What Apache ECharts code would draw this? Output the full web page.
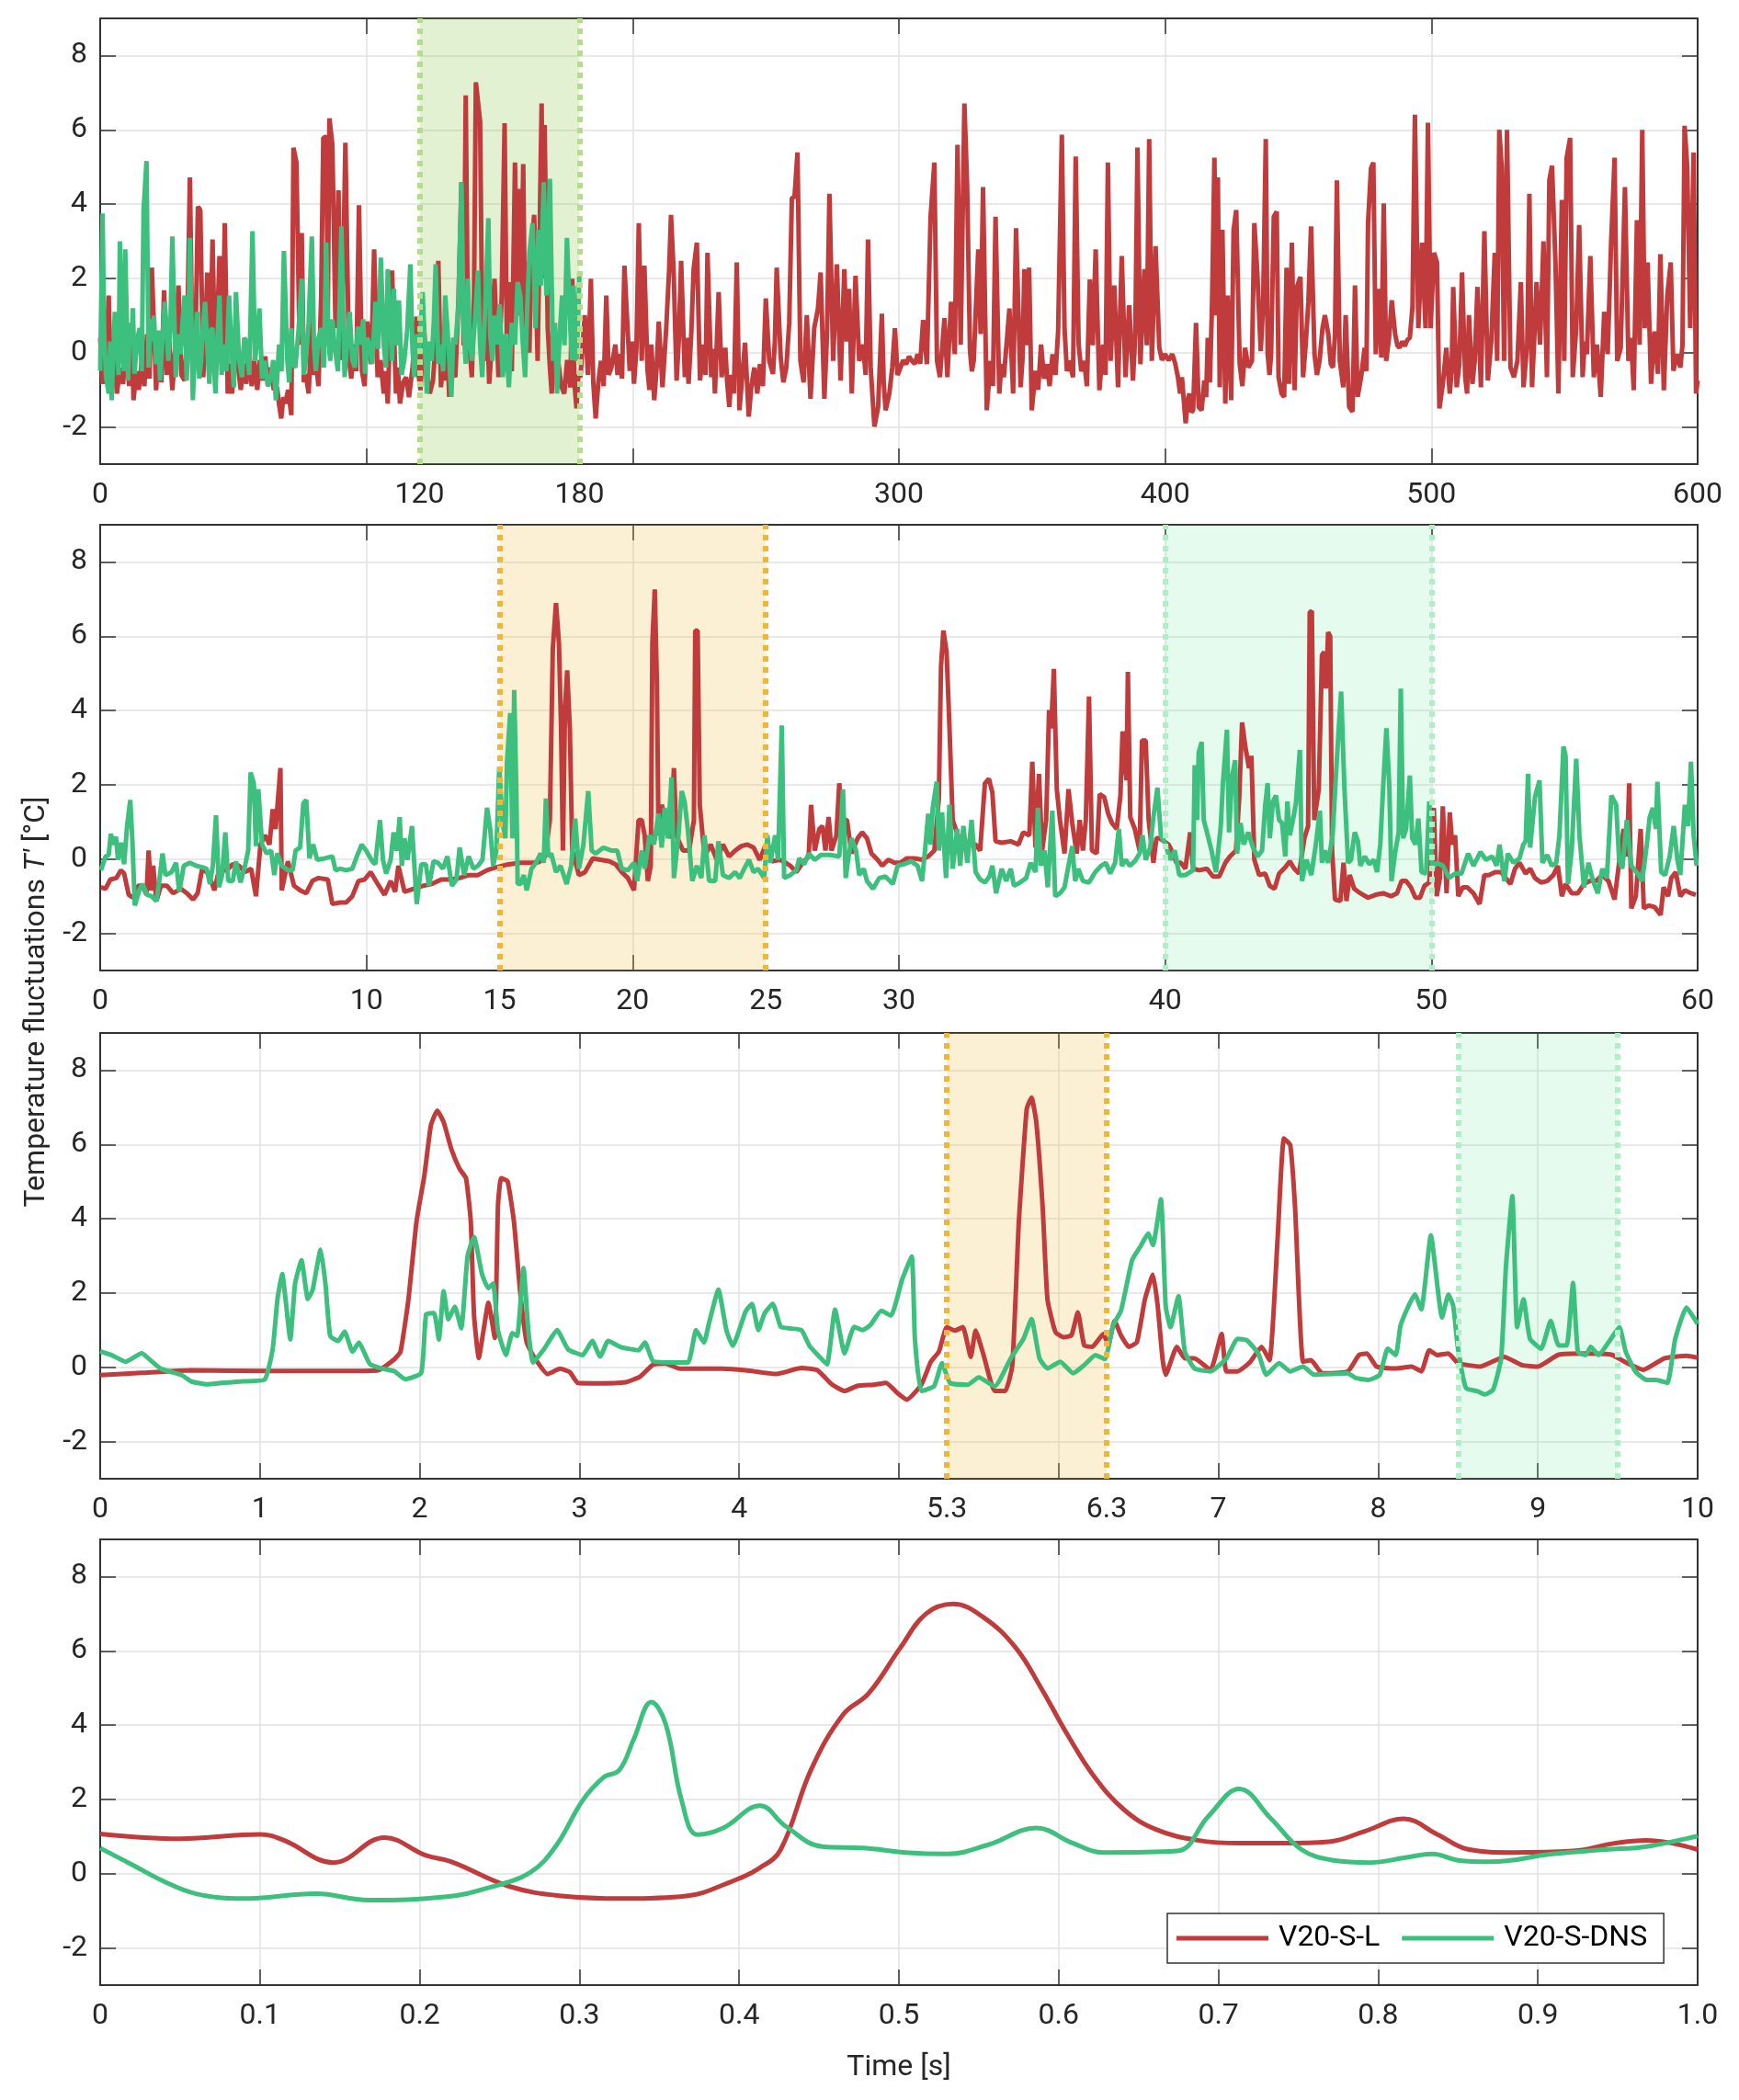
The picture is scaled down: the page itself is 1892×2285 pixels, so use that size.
<!DOCTYPE html>
<html><head><meta charset="utf-8">
<script src="https://cdn.jsdelivr.net/npm/echarts@6/dist/echarts.min.js"></script>
<style>html,body{margin:0;padding:0;background:#fff}#c{width:1892px;height:2285px}</style>
</head><body><div id="c"></div>
<script>
// ---------------- DATA ----------------
const seriesNames = ['V20-S-L', 'V20-S-DNS'];
const yTickValues = [-2, 0, 2, 4, 6, 8];
const p1XLabels = [0, 120, 180, 300, 400, 500, 600];
const p2XLabels = [0, 10, 15, 20, 25, 30, 40, 50, 60];
const p3XLabels = [0, 1, 2, 3, 4, 5.3, 6.3, 7, 8, 9, 10];
const p4XLabels = [0, 0.1, 0.2, 0.3, 0.4, 0.5, 0.6, 0.7, 0.8, 0.9, 1.0];
const p1Bands = [[120, 180]];
const p2Bands = [[15, 25], [40, 50]];
const p3Bands = [[5.3, 6.3], [8.5, 9.5]];
const p4Bands = [];

const p1Red = [[0,0.4],[0.9,-0.84],[2,-0.3],[3.2,1.54],[4,-0.75],[5.2,-0.2],[6.3,-1.1],[7.4,-0.4],[8.6,-0.84],[9.8,0.3],[10.9,-0.9],[12,0.4],[12.5,-1.28],[13.6,-0.5],[14.5,-1.0],[15.6,-0.22],[16.6,-0.9],[17.6,0.5],[18.5,-0.7],[19.4,2.29],[21,-1.01],[22,0.2],[23,-0.8],[24,1.68],[25,-0.6],[26,0.3],[27.1,-1.01],[28.2,0.1],[29.4,1.81],[30.5,-0.6],[31.7,-0.75],[32.7,0.6],[33.7,4.72],[34.8,-0.93],[35.8,0.3],[36.7,3.93],[37.6,3.84],[38.7,-0.66],[39.5,0.4],[40.2,2.16],[41.2,-0.5],[42.2,3.05],[43.3,-0.75],[44.8,2.6],[45.8,-0.3],[46.8,3.49],[47.9,-1.1],[48.7,-0.3],[49.5,-1.1],[50.6,-0.2],[51.8,-0.4],[52.8,-1.0],[53.8,-0.3],[54.9,-0.84],[55.9,0.2],[56.9,-0.9],[57.9,-0.22],[59,-1.0],[60,-0.2],[61,-0.75],[62,-0.1],[63,-0.9],[64.1,-0.4],[65.2,-1.0],[66.4,-0.93],[67.2,-1.4],[68,-1.77],[68.8,-1.2],[69.5,-1.37],[70.6,-1.0],[71.8,-1.68],[72.6,5.52],[73.7,5.12],[74.9,0.22],[75.7,3.22],[76.5,-0.8],[77.2,-0.57],[78.3,-1.1],[79.5,0.93],[80.3,-0.6],[81,-0.22],[82,-0.9],[83,1.5],[83.8,5.78],[84.9,5.82],[85.5,1.0],[86.1,6.31],[87.2,5.6],[88.4,0.66],[89.5,4.37],[90.3,-0.2],[91.1,1.54],[92.1,5.65],[93.4,-0.13],[94.3,-0.7],[95.2,0.22],[96.2,-0.5],[97.2,3.97],[98.3,-0.49],[99.3,-0.9],[100.3,0.84],[101.8,-0.31],[102.9,2.78],[104.2,-0.66],[105.3,-0.2],[106.5,-1.1],[107.2,-0.5],[108,-1.37],[109.6,2.21],[111.1,-1.1],[111.8,-0.4],[112.6,-1.37],[113.8,-0.8],[114.9,-0.66],[116,-1.2],[117.3,-0.4],[118.8,0.97],[119.6,-0.6],[120.3,-1.01],[121.5,0.8],[122.7,-0.57],[123.8,-1.1],[125,-0.75],[126,0.3],[127,2.47],[128,-0.93],[128.8,-0.2],[129.6,-0.75],[130.4,0.2],[131.1,-1.19],[132.2,-0.4],[133.4,-0.66],[134.6,1.5],[135.7,4.59],[136.5,0.2],[137.3,6.93],[138.1,0.66],[139.6,-0.66],[140.4,1.5],[141.1,7.28],[142.7,6.22],[143.5,0.5],[144.2,-0.22],[145.2,1.3],[146.1,-0.84],[147.1,0.2],[148.1,1.99],[149.6,-0.66],[150.8,1.5],[151.9,6.18],[152.7,0.5],[153.5,1.9],[154.6,-0.5],[155.8,5.12],[156.5,1.0],[157.3,4.41],[158.1,1.5],[158.9,5.08],[159.6,0.3],[160.4,2.43],[161.2,0.0],[162,2.78],[163,3.71],[164.3,-0.22],[165.8,6.71],[166.4,2.0],[166.9,6.13],[168.1,0.66],[168.9,-0.4],[169.6,-1.1],[170.8,0.3],[172,-0.22],[173.2,-0.9],[174.3,-1.1],[175.4,-0.2],[176.6,-0.93],[177.3,1.99],[178.1,-0.8],[178.9,-1.5],[179.6,-0.6],[180.4,-0.66],[181.2,0.2],[182,1.01],[183.2,-0.6],[184.3,1.99],[185.2,-0.8],[186.1,-1.77],[187.1,-0.8],[188.1,-0.22],[189.1,-0.9],[190.1,1.54],[191,-0.6],[192,-0.4],[193.5,0.22],[194.3,-0.6],[195.1,-0.04],[196,-0.7],[196.9,2.34],[198.9,-0.49],[199.7,0.3],[200.5,-0.84],[201.4,0.1],[202.3,3.49],[203.4,-0.22],[204.4,2.34],[205.6,-0.49],[206.3,-1.0],[207,0.22],[208.1,-1.28],[209,-0.4],[209.8,0.84],[211.2,-0.93],[212.6,0.66],[213.7,2.25],[214.4,3.71],[215.4,2.16],[216.5,-0.75],[217.3,0.3],[218.2,2.47],[219.6,-0.66],[220.3,0.4],[221,-0.84],[222,0.5],[222.9,2.25],[224.1,2.96],[225.3,-0.75],[226.7,0.22],[227.4,-0.6],[228.1,2.69],[229.5,-0.66],[230.2,0.1],[230.9,-1.1],[232.3,1.63],[233.4,-0.66],[234.8,0.13],[235.5,-0.8],[236.3,-1.46],[237.1,-0.6],[238,-1.1],[239.1,2.43],[240.1,-1.55],[241.2,-0.6],[242.2,0.27],[243.6,-1.72],[244.6,-0.9],[245.7,-0.4],[246.8,-1.1],[247.8,-0.31],[248.9,-0.9],[250,1.46],[251.3,-0.22],[252.7,-0.57],[253.4,0.3],[254.1,2.29],[255.6,-0.13],[256.6,-0.8],[257.7,-0.4],[258.8,0.8],[259.8,4.16],[260.8,4.2],[261.9,5.39],[263,-0.22],[264.2,-0.8],[265.4,1.01],[266.8,-1.24],[268.2,0.66],[269.6,1.19],[270.6,2.16],[272,-1.24],[273,0.5],[273.9,4.28],[275.3,-0.22],[276.7,2.38],[278.1,-0.75],[279.5,2.25],[280.4,0.3],[281.3,1.72],[282.3,-1.1],[283.7,2.07],[285.1,-0.22],[286.5,0.22],[287.5,-0.6],[288.4,3.05],[289.4,-0.4],[290.1,-1.2],[290.8,-1.99],[292.2,-1.46],[293.6,1.05],[294.3,-0.8],[295,-1.55],[296.4,-1.1],[297.5,-0.4],[298.5,0.66],[299.5,-0.6],[300.6,-0.4],[301.6,-0.2],[302.7,-0.31],[303.8,-0.1],[304.9,-0.22],[306,-0.3],[307,-0.04],[308,-0.3],[309.1,0.88],[310.5,-0.31],[311.9,3.66],[313.3,5.12],[314.3,-0.22],[315.4,-0.66],[316.2,0.1],[317.1,0.93],[318.2,-0.66],[319.6,1.37],[321,-0.04],[322,5.6],[323.2,0.22],[324.6,6.71],[325.6,4.55],[326.7,0.04],[327.4,-0.5],[328.1,-0.22],[329.8,2.78],[330.7,0.5],[331.6,4.46],[333,-1.55],[334.4,-0.22],[335.3,-0.9],[336.3,3.66],[337.7,-1.1],[338.5,-0.3],[339.4,-0.66],[340.4,0.2],[341.5,1.19],[342.9,-1.1],[344,3.35],[345.7,-0.93],[346.4,-0.2],[347.1,2.25],[348,0.2],[348.9,2.29],[349.9,-1.55],[351.3,-0.49],[352.3,-1.0],[353.4,0.22],[354.5,-0.7],[355.6,-0.31],[356.6,-0.9],[357.7,-0.04],[358.8,-0.6],[359.8,0.57],[361.2,5.87],[362.2,0.66],[363.1,-0.5],[364,-0.22],[365.4,-0.66],[366.4,5.28],[367.5,0.22],[368.5,-0.5],[369.6,-0.22],[370.6,-0.9],[371.7,1.97],[372.8,0.2],[373.9,2.78],[375.3,-1.01],[376.7,0.22],[377.6,-0.6],[378.5,5.12],[379.5,-0.22],[380.9,1.81],[382.3,-0.93],[383.7,2.6],[385.1,-0.66],[386.5,1.28],[387.9,-0.75],[388.8,0.5],[389.6,5.52],[390.7,-0.31],[392.2,2.25],[393.1,0.2],[394,5.75],[395,-0.22],[396.4,2.87],[397.8,0.13],[398.8,-0.2],[399.9,-0.04],[401.3,-0.2],[402.7,-0.04],[403.8,-0.3],[404.8,-0.66],[405.6,-1.1],[406.3,-0.66],[407.7,-1.9],[408.4,-1.3],[409.1,-1.1],[409.8,-1.6],[410.5,-1.55],[411.6,0.8],[412.6,-1.46],[413.7,-1.55],[414.7,-0.75],[415.4,-1.2],[416,0.4],[416.8,-0.8],[417.6,1.28],[418.5,5.25],[419.2,1.0],[419.8,4.72],[420.5,-0.93],[421.5,3.31],[422.6,-1.37],[423.5,1.54],[424.8,-1.28],[425.7,3.31],[426.7,3.84],[428,-0.31],[429,-0.9],[430,0.13],[431.3,-0.4],[432.6,-0.22],[433.5,3.49],[434.6,2.16],[435.9,0.04],[436.8,1.28],[437.8,5.75],[438.5,-0.04],[439.2,-0.6],[439.8,-0.04],[440.8,3.66],[441.9,3.8],[442.6,-0.66],[443.7,-1.1],[444.7,-1.19],[445.6,2.29],[446.5,-0.84],[447.6,2.96],[448.6,-1.01],[449.5,1.77],[450.8,2.04],[451.8,-0.66],[452.8,0.22],[453.8,1.37],[454.8,3.4],[456.1,-0.04],[457,-0.6],[458,-0.22],[459.1,0.66],[460,1.01],[461.3,0.49],[462.2,-0.3],[463,-0.4],[463.8,0.5],[464.5,4.64],[465.6,-0.22],[466.9,-0.93],[467.8,1.01],[469.1,-1.46],[470.4,-1.59],[471.3,1.81],[472.3,-1.19],[473.6,-0.66],[474.9,0.13],[475.6,-0.5],[476.2,3.49],[477.3,4.96],[478.2,5.12],[479.1,-0.04],[480.2,1.72],[481.2,-0.13],[482.1,4.02],[483,-0.22],[484.1,0.4],[485.1,1.41],[486.4,0.49],[487.2,0.2],[488,0.13],[489,0.3],[490,0.18],[491,0.35],[491.9,0.4],[492.9,1.23],[493.8,6.41],[495.1,0.66],[496.5,2.96],[497.8,0.66],[498.7,6.19],[499.7,0.66],[501,2.69],[502.1,2.43],[503,-1.5],[504.3,-0.84],[505.6,0.13],[506.9,-1.1],[507.6,-0.5],[508.2,1.77],[509.5,-0.93],[510.5,-0.3],[511.5,2.16],[512.7,-0.66],[513.4,-1.1],[514.1,1.01],[515.4,-0.84],[516.3,-0.2],[517.3,1.77],[518.6,-0.93],[519.9,3.27],[521.2,-0.75],[522.5,0.31],[523.8,2.69],[524.7,-0.22],[525.5,6.0],[526.4,5.0],[527.3,-0.22],[528.4,6.0],[529.7,-0.4],[531,-0.66],[532.3,-0.22],[533.6,1.9],[534.6,-0.93],[536,0.22],[536.8,4.28],[537.8,-0.93],[538.6,0.3],[539.5,1.9],[540.8,0.22],[542.1,3.0],[543.4,-0.66],[544.3,4.64],[545.3,5.03],[546.6,2.43],[547.7,-1.1],[549,4.11],[549.9,-0.22],[550.8,5.25],[552.1,5.78],[553.1,-0.66],[554.4,0.66],[555.5,3.44],[556.8,-0.66],[557.6,0.3],[558.4,-0.04],[559.7,2.6],[561,-0.66],[562.2,0.22],[563.6,-1.19],[564.9,1.1],[566.2,-0.04],[567.5,2.96],[568.8,5.25],[569.8,-0.22],[571.1,0.13],[572.7,4.46],[574,-0.22],[575,0.4],[576,-1.01],[577.2,3.57],[578.2,0.22],[579.2,6.0],[580.1,0.66],[581.2,2.43],[582.5,-0.84],[583.8,0.57],[585.1,-0.57],[586,2.65],[587.3,-1.01],[588.6,1.54],[589.9,2.43],[590.9,-0.49],[592.2,-0.04],[593.5,-0.4],[594.3,0.2],[595.1,6.11],[596.1,4.99],[597.2,0.66],[598.5,5.39],[599.4,-1.1],[600,-0.75]];

const p1Green = [[0,-0.49],[0.9,3.75],[1.5,0.5],[2.2,-0.66],[3.2,-1.1],[3.8,0.3],[4.3,-1.28],[5.5,1.1],[6.3,0.22],[6.9,-0.6],[7.4,3.0],[8.3,0.22],[8.9,-0.5],[9.4,2.78],[10.5,-0.75],[11.1,0.8],[11.7,0.22],[12.3,1.2],[12.9,-0.57],[13.8,0.3],[14.8,0.66],[15.6,-0.5],[16.3,3.84],[17.4,5.16],[18.2,-0.4],[18.8,0.9],[19.4,0.31],[20.2,1.0],[21,-0.31],[21.8,0.6],[22.5,-0.75],[23.4,0.4],[24.3,1.37],[25.6,-0.22],[26.4,0.8],[27.1,3.13],[28.4,-0.66],[29.3,0.5],[30.2,-0.04],[31,0.9],[31.7,1.54],[32.5,-0.75],[33.1,0.6],[33.7,3.09],[34.8,-1.28],[35.6,0.2],[36.4,1.1],[37.2,-0.7],[37.9,-0.22],[38.7,0.8],[39.4,1.37],[40.2,0.2],[41,-0.84],[41.6,0.6],[42.2,0.66],[42.8,-0.4],[43.3,-1.1],[44,0.3],[44.8,1.54],[45.6,-0.6],[46.4,0.22],[47.4,-0.5],[48.4,1.54],[49.3,0.1],[50.2,-0.93],[51,1.63],[52.2,-0.2],[53.3,-0.66],[54.1,0.4],[54.9,0.31],[56,-0.6],[57.2,3.27],[58.2,-0.22],[59,0.4],[59.8,1.19],[60.8,-0.7],[61.8,-0.22],[63,-0.9],[64.1,-0.66],[65,-0.2],[66,-1.28],[67.2,0.22],[68.1,-0.5],[69,2.74],[70.3,-0.22],[71,-0.8],[71.8,0.66],[72.5,-0.3],[73.3,-0.4],[74.5,0.6],[75.7,1.99],[76.5,-0.6],[77.2,-0.22],[78.3,0.8],[79.5,3.13],[80.3,0.2],[81,-0.49],[82,0.4],[83.1,0.66],[84,-0.4],[84.9,2.96],[85.6,0.5],[86.4,-0.22],[87.2,0.9],[88,0.22],[89.3,-0.5],[90.6,3.4],[91.8,-0.66],[92.8,0.3],[93.7,1.1],[94.7,-0.2],[95.7,-0.4],[96.8,0.7],[98,0.22],[98.8,0.9],[99.5,-0.57],[100.3,0.4],[101.1,0.22],[102.2,-0.3],[103.4,1.37],[104.4,0.1],[105.4,2.56],[106.5,0.22],[107.3,-0.4],[108,2.25],[109.6,-0.22],[110.3,1.72],[111.2,0.2],[112.2,1.41],[113.2,-0.6],[114.2,-0.22],[115.3,0.6],[116.5,2.38],[117.3,0.1],[118,-0.66],[119,0.5],[119.9,-0.04],[121.1,1.63],[122.7,-1.1],[123.6,0.3],[124.5,-0.22],[125.3,0.8],[126,2.38],[127,-0.3],[128,0.22],[128.8,-0.5],[129.6,1.54],[130.8,0.2],[131.9,-1.19],[132.6,0.4],[133.4,0.22],[134.5,1.2],[135.7,4.59],[136.5,0.66],[137.3,-0.3],[138.1,1.99],[138.8,0.4],[139.6,-0.22],[140.8,0.9],[141.9,2.21],[142.7,0.2],[143.5,-0.66],[144.6,1.2],[145.8,3.62],[146.5,0.5],[147.3,-0.22],[148.1,1.0],[148.9,0.22],[150,1.3],[151.2,-0.66],[152.3,0.5],[153.5,-0.93],[154.6,0.8],[155.8,0.22],[156.8,1.9],[157.8,1.54],[158.7,0.3],[159.6,-0.66],[160.4,1.2],[161.2,2.69],[162.4,3.49],[163.5,0.66],[164.6,3.31],[165.5,1.81],[166.6,4.59],[167.6,1.54],[168.9,4.68],[170.1,-0.22],[170.8,0.8],[171.6,-1.1],[172.6,0.5],[173.5,1.54],[174.4,0.2],[175.3,3.09],[176.6,0.66],[177.2,-0.2],[177.8,1.81],[178.9,-0.22],[179.5,0.8],[180,2.16]];

const p2Red = [[0.03,-0.76],[0.2,-0.8],[0.38,-0.55],[0.61,-0.51],[0.78,-0.3],[0.9,-0.39],[1.07,-0.96],[1.24,-1.04],[1.42,-0.72],[1.59,-0.72],[1.74,-0.96],[1.82,0.23],[1.9,-0.84],[1.99,-0.18],[2.11,-1.13],[2.28,-0.72],[2.51,-0.72],[2.74,-0.92],[3.03,-0.8],[3.26,-0.92],[3.49,-1.09],[3.66,-0.92],[3.83,-0.26],[4.06,-0.39],[4.29,-0.84],[4.46,-0.3],[4.75,-0.3],[4.98,-0.14],[5.21,-0.18],[5.44,-0.35],[5.67,-0.26],[5.85,-1.0],[6.02,0.39],[6.19,0.64],[6.36,0.39],[6.48,1.34],[6.59,0.81],[6.77,2.45],[6.82,-0.84],[7.05,-0.06],[7.28,-0.72],[7.51,-0.84],[7.74,-0.92],[7.97,-0.59],[8.2,-0.51],[8.55,-0.55],[8.72,-1.21],[9.01,-1.17],[9.24,-1.17],[9.47,-1.0],[9.7,-0.59],[9.93,-0.55],[10.16,-0.35],[10.39,-0.63],[10.68,-0.96],[10.91,-0.59],[11.08,-0.88],[11.2,-0.18],[11.43,-0.88],[11.77,-0.8],[12.12,-0.72],[12.46,-0.67],[12.81,-0.55],[13.15,-0.55],[13.5,-0.51],[13.84,-0.43],[14.19,-0.43],[14.53,-0.3],[14.88,-0.22],[15.34,-0.14],[15.8,-0.1],[16.26,-0.1],[16.48,-0.08],[16.71,0.07],[16.89,1.05],[17.0,5.66],[17.12,6.89],[17.23,5.82],[17.31,3.52],[17.38,0.23],[17.46,4.1],[17.54,5.08],[17.64,3.52],[17.73,0.23],[17.98,-0.43],[18.21,-0.35],[18.5,0.02],[18.79,-0.02],[19.13,-0.06],[19.36,-0.14],[19.59,-0.35],[19.82,-0.51],[20.05,-0.84],[20.22,1.05],[20.34,1.05],[20.45,0.64],[20.57,-0.59],[20.68,-0.18],[20.74,5.82],[20.83,7.26],[20.91,4.75],[20.97,0.64],[21.09,1.46],[21.26,1.05],[21.43,0.56],[21.55,2.45],[21.64,0.64],[21.89,0.23],[22.12,0.23],[22.3,1.05],[22.35,6.15],[22.44,6.15],[22.52,1.46],[22.7,0.07],[22.93,0.39],[23.16,-0.02],[23.39,0.39],[23.62,0.07],[23.85,0.23],[24.08,0.35],[24.31,0.39],[24.54,0.31],[24.77,-0.02],[25.0,0.39],[25.23,-0.06],[25.52,-0.02],[25.75,-0.1],[25.92,-0.18],[26.15,-0.35],[26.38,-0.1],[26.61,0.07],[26.7,1.46],[26.84,0.23],[27.01,0.81],[27.13,0.89],[27.24,0.23],[27.36,1.13],[27.47,0.23],[27.65,0.64],[27.76,2.04],[27.88,1.05],[28.05,1.05],[28.22,0.15],[28.45,0.56],[28.62,0.72],[28.8,0.56],[28.97,0.15],[29.2,-0.02],[29.37,-0.18],[29.6,-0.02],[29.83,-0.1],[30.06,-0.1],[30.29,0.02],[30.58,0.02],[30.87,-0.02],[31.1,0.07],[31.33,0.23],[31.5,1.63],[31.58,5.16],[31.67,6.15],[31.79,5.58],[31.9,3.52],[32.02,1.05],[32.25,0.56],[32.48,0.48],[32.71,0.39],[32.88,0.39],[33.05,0.23],[33.23,2.04],[33.38,2.16],[33.51,1.79],[33.63,0.48],[33.86,0.44],[34.2,0.48],[34.49,0.39],[34.67,0.72],[34.9,0.64],[35.01,2.62],[35.13,0.31],[35.26,2.29],[35.38,0.23],[35.53,1.05],[35.64,4.01],[35.72,3.52],[35.82,5.12],[35.93,1.88],[36.05,1.05],[36.22,0.15],[36.37,1.88],[36.51,0.97],[36.68,0.15],[36.79,1.05],[36.91,0.23],[37.02,1.05],[37.14,4.38],[37.25,0.23],[37.43,0.15],[37.54,1.75],[37.71,1.67],[37.86,1.22],[38.0,0.97],[38.18,0.81],[38.32,1.71],[38.4,3.44],[38.46,2.7],[38.55,2.12],[38.6,5.04],[38.69,1.13],[38.86,0.81],[39.04,0.23],[39.13,3.19],[39.27,3.19],[39.38,1.05],[39.56,-0.1],[39.67,0.56],[39.79,0.56],[39.96,0.48],[40.13,0.39],[40.3,0.15],[40.42,-0.1],[40.59,-0.1],[40.76,-0.26],[40.94,0.72],[41.05,-0.26],[41.28,-0.3],[41.57,-0.26],[41.8,-0.47],[42.03,-0.47],[42.26,-0.1],[42.43,0.07],[42.66,0.23],[42.78,1.63],[42.89,3.68],[43.01,3.03],[43.15,2.45],[43.24,2.78],[43.35,-0.02],[43.53,-0.43],[43.76,-0.39],[43.93,-0.72],[44.11,-0.8],[44.28,-0.39],[44.51,-0.22],[44.68,-0.06],[44.85,-0.26],[45.03,-0.39],[45.23,0.56],[45.37,0.89],[45.43,6.64],[45.51,6.68],[45.6,1.05],[45.77,1.88],[45.89,5.49],[45.97,5.58],[46.04,4.59],[46.12,6.11],[46.2,5.99],[46.27,0.23],[46.38,-1.09],[46.58,-1.13],[46.7,-0.1],[46.81,-1.13],[46.93,-0.43],[47.1,-0.8],[47.33,-0.92],[47.62,-1.04],[47.91,-0.96],[48.19,-0.92],[48.48,-1.0],[48.71,-0.92],[48.88,-0.59],[49.05,-0.59],[49.23,-0.76],[49.4,-1.04],[49.57,-1.04],[49.74,-0.72],[49.92,-0.63],[50.09,1.38],[50.2,-1.0],[50.32,-0.51],[50.43,1.42],[50.57,-0.92],[50.69,1.26],[50.78,0.39],[50.89,0.64],[51.01,-1.0],[51.18,-0.76],[51.35,-0.76],[51.58,-0.92],[51.81,-1.21],[51.99,-0.43],[52.16,-0.43],[52.39,-0.35],[52.62,-0.35],[52.79,-0.51],[52.97,-0.67],[53.14,-0.26],[53.31,-0.1],[53.54,-0.39],[53.71,-0.26],[53.89,-0.51],[54.12,-0.63],[54.35,-0.59],[54.58,-0.43],[54.75,-0.18],[54.9,-1.0],[55.04,-0.67],[55.27,-0.92],[55.5,-0.92],[55.73,-0.67],[55.96,-0.59],[56.19,-0.59],[56.42,-0.43],[56.65,-0.59],[56.88,-1.09],[57.05,-0.1],[57.22,0.81],[57.34,0.07],[57.43,2.04],[57.51,-1.33],[57.68,-1.0],[57.86,0.81],[57.98,-1.33],[58.15,-1.25],[58.38,-1.29],[58.61,-1.5],[58.72,-0.76],[58.89,-1.0],[59.01,-0.51],[59.18,-0.35],[59.35,-1.0],[59.52,-0.84],[59.75,-0.92],[59.93,-0.96]];

const p2Green = [[0.03,-0.3],[0.2,0.07],[0.32,0.11],[0.4,0.68],[0.49,0.39],[0.59,0.6],[0.67,-0.02],[0.78,0.44],[0.9,-0.14],[1.01,0.89],[1.13,1.59],[1.21,0.48],[1.3,-1.25],[1.47,-0.84],[1.59,-0.67],[1.76,-0.96],[1.93,-1.0],[2.11,-1.13],[2.22,-0.59],[2.34,0.15],[2.45,-0.43],[2.68,-0.35],[2.85,-0.1],[2.97,-0.88],[3.14,-0.18],[3.37,-0.1],[3.6,-0.18],[3.83,-0.22],[4.0,-0.26],[4.12,-0.67],[4.23,-0.18],[4.35,1.18],[4.46,-0.76],[4.58,-0.43],[4.7,0.72],[4.81,-0.59],[4.98,-0.59],[5.1,-0.06],[5.27,-0.63],[5.44,-0.18],[5.56,0.23],[5.65,2.33],[5.77,2.04],[5.85,0.35],[5.94,1.88],[6.08,0.39],[6.25,0.15],[6.42,0.23],[6.54,-0.43],[6.65,0.15],[6.82,-0.18],[7.05,-0.3],[7.23,-0.3],[7.34,0.23],[7.51,0.31],[7.63,1.5],[7.74,1.59],[7.86,0.02],[8.0,0.39],[8.15,-0.02],[8.44,0.02],[8.72,0.07],[8.84,-0.3],[9.01,-0.26],[9.24,-0.3],[9.47,-0.26],[9.64,0.07],[9.82,0.39],[9.99,0.23],[10.22,-0.06],[10.33,-0.14],[10.51,1.05],[10.62,-0.02],[10.74,-0.39],[10.91,-0.02],[11.02,0.72],[11.14,0.23],[11.25,1.13],[11.33,-0.18],[11.43,0.56],[11.54,-0.02],[11.71,0.89],[11.89,-1.21],[12.06,-0.14],[12.23,-0.14],[12.35,-0.72],[12.52,-0.06],[12.69,-0.1],[12.87,-0.26],[13.04,0.07],[13.21,-0.72],[13.38,-0.55],[13.5,0.31],[13.67,-0.43],[13.84,0.07],[14.02,-0.26],[14.19,-0.18],[14.36,-0.02],[14.53,1.38],[14.65,0.81],[14.76,-0.18],[14.88,0.23],[14.99,2.49],[15.11,0.97],[15.22,0.56],[15.28,2.62],[15.4,3.93],[15.48,0.56],[15.55,4.55],[15.63,1.88],[15.68,-0.67],[15.79,-0.67],[15.91,-0.43],[16.02,-0.84],[16.2,-0.26],[16.37,-0.1],[16.54,0.15],[16.66,-0.1],[16.74,1.63],[16.83,0.07],[16.94,0.15],[17.12,-0.35],[17.29,-0.18],[17.52,-0.67],[17.69,-0.18],[17.84,1.09],[17.98,-0.26],[18.15,0.39],[18.33,1.83],[18.46,0.23],[18.61,0.15],[18.9,0.31],[19.19,0.23],[19.42,0.23],[19.59,-0.26],[19.82,-0.3],[20.05,-0.1],[20.17,-0.59],[20.34,0.23],[20.45,-0.26],[20.63,0.64],[20.8,0.39],[20.97,1.22],[21.09,0.31],[21.2,1.38],[21.32,0.56],[21.46,2.2],[21.55,-0.51],[21.72,0.64],[21.84,1.83],[21.95,1.55],[22.07,0.81],[22.24,-0.59],[22.41,-0.18],[22.58,-0.51],[22.7,0.64],[22.87,-0.59],[23.1,-0.59],[23.22,0.48],[23.39,-0.43],[23.62,-0.51],[23.85,-0.35],[24.02,-0.51],[24.19,-0.26],[24.37,-0.02],[24.54,-0.35],[24.71,-0.26],[24.94,-0.51],[25.06,0.64],[25.17,-0.1],[25.35,0.64],[25.46,-0.02],[25.6,3.6],[25.69,-0.51],[25.92,-0.43],[26.15,-0.3],[26.26,0.02],[26.44,-0.14],[26.61,0.15],[26.84,-0.02],[27.07,0.11],[27.42,0.11],[27.76,0.07],[27.9,1.88],[28.0,-0.51],[28.11,0.07],[28.22,0.56],[28.39,0.23],[28.51,-0.43],[28.68,-0.26],[28.8,-0.59],[29.03,-0.8],[29.26,-0.51],[29.49,-0.47],[29.77,-0.67],[29.95,-0.18],[30.18,-0.14],[30.46,-0.06],[30.7,-0.18],[30.87,-0.59],[30.98,0.23],[31.1,1.22],[31.19,0.39],[31.27,1.38],[31.42,2.08],[31.5,0.23],[31.62,1.26],[31.77,-0.51],[31.9,1.46],[32.02,-0.26],[32.19,0.81],[32.3,-0.18],[32.42,0.89],[32.57,-0.1],[32.73,1.05],[32.88,-0.35],[33.05,-0.55],[33.23,-0.63],[33.4,-0.47],[33.51,-0.18],[33.65,-0.92],[33.86,-0.26],[34.03,-0.59],[34.2,-0.26],[34.32,-0.72],[34.55,-0.63],[34.78,-0.51],[34.95,-0.1],[35.13,-0.35],[35.22,1.38],[35.33,-0.18],[35.47,0.23],[35.59,-0.76],[35.76,1.3],[35.87,-1.0],[36.05,-0.92],[36.22,-0.76],[36.39,-0.1],[36.51,0.35],[36.62,-0.59],[36.74,-0.26],[36.91,-0.59],[37.14,-0.63],[37.37,-0.35],[37.6,-0.18],[37.77,-0.1],[37.94,-0.39],[38.12,-0.1],[38.26,0.81],[38.37,-0.18],[38.52,-0.02],[38.67,-0.18],[38.86,-0.06],[39.04,0.15],[39.15,0.64],[39.27,-0.02],[39.44,0.31],[39.56,1.13],[39.71,1.92],[39.84,0.64],[40.02,0.39],[40.19,-0.02],[40.36,0.23],[40.53,-0.43],[40.76,-0.43],[41.05,-0.3],[41.11,2.53],[41.2,1.05],[41.26,2.86],[41.37,3.15],[41.45,1.05],[41.57,0.72],[41.74,0.23],[41.91,-0.35],[42.09,0.89],[42.17,2.04],[42.32,3.48],[42.4,0.72],[42.51,2.2],[42.63,2.66],[42.7,0.15],[42.83,0.97],[42.95,0.39],[43.12,0.72],[43.3,0.31],[43.47,0.07],[43.64,0.23],[43.76,1.46],[43.85,2.04],[43.93,0.56],[44.05,1.55],[44.16,1.71],[44.28,1.05],[44.39,0.97],[44.51,0.07],[44.59,1.55],[44.68,0.64],[44.82,1.13],[44.91,1.5],[45.06,2.94],[45.14,-0.59],[45.31,-0.02],[45.49,-0.43],[45.66,0.39],[45.81,1.3],[45.89,-0.1],[46.0,0.23],[46.12,-0.1],[46.29,0.64],[46.41,2.2],[46.52,3.52],[46.61,4.51],[46.73,1.96],[46.87,-0.1],[46.98,-0.02],[47.12,0.72],[47.24,0.48],[47.33,-0.18],[47.5,0.07],[47.67,-0.14],[47.84,-0.02],[47.96,-0.35],[48.08,0.39],[48.19,1.96],[48.31,3.52],[48.42,1.96],[48.5,-0.59],[48.65,0.23],[48.77,0.72],[48.85,4.59],[48.94,0.56],[49.05,0.81],[49.19,2.25],[49.28,0.56],[49.4,0.39],[49.51,1.09],[49.63,-0.35],[49.8,-0.39],[49.92,1.55],[50.03,-0.26],[50.2,-0.1],[50.43,-0.18],[50.67,-0.51],[50.89,-0.39],[51.13,-0.39],[51.38,0.15],[51.58,-0.18],[51.84,0.19],[52.05,-0.02],[52.28,0.07],[52.45,-0.18],[52.56,0.39],[52.74,-0.59],[52.87,0.15],[53.08,-0.1],[53.31,0.02],[53.45,0.39],[53.54,0.48],[53.63,2.29],[53.71,0.31],[53.89,1.67],[54.06,2.12],[54.17,-0.1],[54.35,0.11],[54.52,-0.18],[54.69,-0.1],[54.81,0.64],[54.96,3.03],[55.04,2.78],[55.13,-0.67],[55.27,0.23],[55.44,2.7],[55.56,0.64],[55.73,-0.76],[55.9,-0.1],[56.07,-0.59],[56.25,-0.92],[56.42,-0.26],[56.59,-0.51],[56.76,1.71],[56.94,1.46],[57.05,-0.02],[57.17,-0.26],[57.34,1.05],[57.51,-0.18],[57.74,-0.39],[57.92,-0.59],[58.09,0.39],[58.2,1.13],[58.32,1.38],[58.43,0.81],[58.49,2.08],[58.63,-0.35],[58.78,-0.43],[58.95,0.07],[59.1,0.89],[59.24,-0.02],[59.35,-0.43],[59.52,1.46],[59.64,0.89],[59.75,2.62],[59.85,0.64],[59.96,-0.18]];

const p3Red = [[0,-0.21],[0.26,-0.15],[0.57,-0.08],[1.05,-0.1],[1.52,-0.1],[1.74,-0.08],[1.84,0.21],[1.88,0.42],[1.93,1.84],[1.98,3.92],[2.03,5.18],[2.07,6.51],[2.11,6.91],[2.15,6.6],[2.2,5.85],[2.25,5.34],[2.29,5.09],[2.32,3.92],[2.34,1.42],[2.37,0.25],[2.4,1.0],[2.43,1.74],[2.47,0.79],[2.49,4.34],[2.51,5.09],[2.55,5.01],[2.59,3.92],[2.63,2.0],[2.67,0.67],[2.72,0.25],[2.8,-0.18],[2.88,-0.04],[2.94,-0.13],[2.99,-0.42],[3.1,-0.43],[3.29,-0.4],[3.38,-0.25],[3.46,0.07],[3.54,0.1],[3.63,-0.04],[3.89,-0.04],[4.04,-0.08],[4.23,-0.18],[4.39,-0.02],[4.49,-0.08],[4.58,-0.46],[4.66,-0.64],[4.74,-0.5],[4.84,-0.47],[4.92,-0.42],[4.99,-0.69],[5.05,-0.87],[5.14,-0.47],[5.2,0.15],[5.25,0.42],[5.3,1.08],[5.35,0.99],[5.4,1.08],[5.45,0.28],[5.48,0.99],[5.53,0.33],[5.6,-0.64],[5.665,-0.64],[5.71,0.06],[5.75,3.86],[5.8,6.95],[5.83,7.26],[5.86,6.6],[5.9,4.3],[5.93,1.83],[5.98,0.95],[6.03,0.81],[6.08,0.86],[6.12,1.48],[6.16,0.59],[6.21,0.55],[6.28,0.9],[6.31,0.59],[6.35,1.25],[6.39,0.86],[6.44,0.55],[6.49,0.68],[6.54,1.83],[6.59,2.49],[6.62,1.65],[6.65,0.24],[6.67,-0.2],[6.74,0.55],[6.79,0.24],[6.85,0.24],[6.95,-0.07],[7.02,0.9],[7.05,-0.11],[7.12,-0.11],[7.2,0.15],[7.27,0.55],[7.32,0.19],[7.37,3.42],[7.41,6.16],[7.45,5.98],[7.48,4.3],[7.53,0.15],[7.58,0.19],[7.65,-0.16],[7.81,-0.11],[7.88,0.33],[7.93,0.37],[7.99,0.02],[8.11,-0.03],[8.21,0.02],[8.27,-0.11],[8.32,0.46],[8.37,0.33],[8.44,0.37],[8.5,0.11],[8.64,0.02],[8.79,0.28],[8.9,0.06],[9.0,0.02],[9.13,0.34],[9.3,0.37],[9.46,0.34],[9.56,0.11],[9.66,-0.07],[9.79,0.24],[9.93,0.31],[10.0,0.26]];

const p3Green = [[0,0.43],[0.07,0.33],[0.16,0.15],[0.26,0.38],[0.32,0.17],[0.38,-0.04],[0.51,-0.21],[0.57,-0.38],[0.67,-0.46],[0.76,-0.42],[0.89,-0.38],[1.03,-0.33],[1.08,0.5],[1.11,1.84],[1.14,2.51],[1.16,1.84],[1.19,0.75],[1.22,2.25],[1.26,2.88],[1.3,1.84],[1.33,2.09],[1.38,3.17],[1.41,2.25],[1.44,0.84],[1.49,0.71],[1.53,0.96],[1.58,0.42],[1.62,0.67],[1.66,0.33],[1.69,0.08],[1.77,-0.04],[1.84,-0.1],[1.91,-0.32],[2.01,-0.15],[2.04,1.42],[2.09,1.46],[2.12,0.75],[2.15,2.05],[2.18,1.29],[2.22,1.63],[2.26,1.05],[2.3,3.0],[2.34,3.51],[2.39,2.51],[2.43,2.13],[2.46,2.25],[2.49,1.0],[2.54,0.33],[2.58,0.92],[2.61,0.84],[2.65,2.67],[2.68,1.0],[2.71,0.13],[2.78,0.5],[2.86,1.0],[2.93,0.48],[3.02,0.33],[3.08,0.71],[3.13,0.29],[3.18,0.71],[3.26,0.54],[3.37,0.46],[3.41,0.67],[3.46,0.17],[3.57,0.13],[3.68,0.13],[3.73,1.0],[3.78,0.67],[3.81,1.17],[3.87,2.09],[3.92,1.0],[3.96,0.58],[4.04,1.5],[4.08,1.71],[4.12,1.0],[4.16,1.46],[4.21,1.71],[4.26,1.09],[4.31,1.05],[4.39,1.0],[4.44,0.58],[4.51,0.25],[4.55,0.08],[4.6,1.55],[4.66,0.38],[4.72,1.09],[4.77,1.0],[4.82,1.13],[4.89,1.52],[4.95,1.39],[5.02,2.36],[5.08,2.98],[5.1,0.77],[5.14,-0.64],[5.22,-0.51],[5.27,0.11],[5.32,-0.42],[5.43,-0.47],[5.5,-0.27],[5.6,-0.51],[5.7,0.24],[5.78,0.77],[5.83,1.3],[5.88,0.24],[5.93,-0.03],[6.01,0.15],[6.09,-0.16],[6.16,0.06],[6.23,0.33],[6.29,0.22],[6.34,1.12],[6.39,1.52],[6.46,2.89],[6.51,3.24],[6.56,3.6],[6.59,3.29],[6.64,4.52],[6.67,1.65],[6.7,1.08],[6.75,1.92],[6.79,0.42],[6.85,-0.03],[6.95,-0.11],[7.05,0.24],[7.12,0.77],[7.18,0.72],[7.25,0.37],[7.3,-0.2],[7.38,0.11],[7.45,-0.11],[7.53,0.02],[7.6,-0.2],[7.81,-0.16],[7.86,-0.29],[7.94,-0.34],[8.01,-0.2],[8.06,0.5],[8.11,0.33],[8.14,1.12],[8.19,1.65],[8.23,1.96],[8.27,1.56],[8.33,3.55],[8.4,1.34],[8.44,1.96],[8.47,1.65],[8.5,0.5],[8.55,-0.56],[8.62,-0.64],[8.67,-0.73],[8.72,-0.6],[8.77,0.24],[8.8,2.71],[8.84,4.61],[8.87,1.08],[8.91,1.83],[8.95,0.77],[9.02,0.5],[9.08,1.25],[9.13,0.59],[9.18,0.59],[9.22,2.27],[9.25,0.42],[9.3,0.33],[9.33,0.55],[9.38,0.33],[9.45,0.72],[9.51,1.08],[9.55,0.42],[9.61,-0.11],[9.68,-0.34],[9.74,-0.34],[9.81,-0.42],[9.86,0.77],[9.93,1.61],[10.0,1.17]];

const p4Red = [[0,1.07],[0.05,0.94],[0.1,1.06],[0.115,0.9],[0.146,0.3],[0.178,0.97],[0.204,0.49],[0.22,0.32],[0.256,-0.34],[0.289,-0.6],[0.328,-0.67],[0.367,-0.6],[0.393,-0.25],[0.413,0.16],[0.426,0.65],[0.445,2.8],[0.465,4.28],[0.481,4.85],[0.501,6.09],[0.517,7.0],[0.534,7.26],[0.553,6.9],[0.573,6.09],[0.589,5.0],[0.605,3.78],[0.622,2.63],[0.641,1.72],[0.661,1.19],[0.687,0.9],[0.713,0.82],[0.739,0.82],[0.769,0.86],[0.792,1.15],[0.816,1.48],[0.837,1.06],[0.857,0.65],[0.883,0.57],[0.922,0.61],[0.948,0.82],[0.968,0.9],[0.984,0.82],[1.0,0.65]];

const p4Green = [[0,0.69],[0.02,0.24],[0.04,-0.21],[0.06,-0.54],[0.089,-0.67],[0.135,-0.54],[0.168,-0.71],[0.217,-0.62],[0.243,-0.38],[0.269,0.03],[0.285,0.73],[0.302,1.97],[0.315,2.59],[0.325,2.79],[0.334,3.62],[0.345,4.62],[0.354,4.03],[0.364,1.97],[0.374,1.05],[0.39,1.23],[0.413,1.83],[0.429,1.28],[0.452,0.73],[0.478,0.69],[0.504,0.57],[0.53,0.53],[0.556,0.78],[0.586,1.23],[0.609,0.82],[0.628,0.57],[0.674,0.61],[0.694,1.56],[0.713,2.28],[0.733,1.48],[0.752,0.65],[0.772,0.36],[0.795,0.3],[0.818,0.44],[0.834,0.53],[0.85,0.36],[0.87,0.32],[0.909,0.53],[0.942,0.65],[0.968,0.73],[1.0,1.02]];

// ---------------- STYLE / LAYOUT ----------------
const RED = '#c03b3b', GREEN = '#3dbf7e';
const AXIS = '#333333', TEXT = '#262626', GRIDLINE = '#e2e2e2';
const FONT = 'Roboto, "Noto Sans", "DejaVu Sans", sans-serif';
const FS = 32;
const LW = 5;
const bandStyle = {
  lime:  { fill: 'rgba(140,200,80,0.26)',  edge: '#b5dd8a' },
  amber: { fill: 'rgba(240,185,60,0.22)',  edge: '#f0b63a' },
  mint:  { fill: 'rgba(100,230,150,0.17)', edge: '#b0eec6' }
};
const panels = [
  { min: 0, max: 600, step: 100, labels: p1XLabels, red: p1Red, green: p1Green, bands: p1Bands, kinds: ['lime'], smooth: false, fmt: v => String(v) },
  { min: 0, max: 60, step: 10, labels: p2XLabels, red: p2Red, green: p2Green, bands: p2Bands, kinds: ['amber', 'mint'], smooth: false, fmt: v => String(v) },
  { min: 0, max: 10, step: 1, labels: p3XLabels, red: p3Red, green: p3Green, bands: p3Bands, kinds: ['amber', 'mint'], smooth: 0.15, fmt: v => String(v) },
  { min: 0, max: 1, step: 0.1, labels: p4XLabels, red: p4Red, green: p4Green, bands: p4Bands, kinds: [], smooth: 0.4, fmt: v => (v === 1 ? '1.0' : String(v)) }
];
const gridTops = [20, 571, 1124, 1675];
const gridH = 485;

const grid = [], xAxis = [], yAxis = [], series = [];
panels.forEach((p, i) => {
  grid.push({ left: 109, right: 45, top: gridTops[i], height: gridH, containLabel: false });
  const lineBase = { show: true, onZero: false, lineStyle: { color: AXIS, width: 2 } };
  const tickBase = { show: true, inside: true, length: 17, lineStyle: { color: AXIS, width: 1.5 } };
  xAxis.push({
    type: 'value', gridIndex: i, min: p.min, max: p.max, interval: p.step, position: 'bottom',
    axisLine: lineBase, axisTick: tickBase,
    axisLabel: { customValues: p.labels, formatter: p.fmt, color: TEXT, fontSize: FS, fontFamily: FONT, margin: 18, showMinLabel: true, showMaxLabel: true },
    splitLine: { show: true, lineStyle: { color: GRIDLINE, width: 1.5 } }
  });
  xAxis.push({
    type: 'value', gridIndex: i, min: p.min, max: p.max, interval: p.step, position: 'top',
    axisLine: lineBase, axisTick: tickBase, axisLabel: { show: false }, splitLine: { show: false }
  });
  yAxis.push({
    type: 'value', gridIndex: i, min: -3, max: 9, position: 'left',
    axisLine: lineBase, axisTick: Object.assign({}, tickBase, { customValues: yTickValues }),
    axisLabel: { customValues: yTickValues, color: TEXT, fontSize: FS, fontFamily: FONT, margin: 14 },
    splitLine: { show: true, lineStyle: { color: GRIDLINE, width: 1.5 } }
  });
  yAxis.push({
    type: 'value', gridIndex: i, min: -3, max: 9, position: 'right',
    axisLine: lineBase, axisTick: Object.assign({}, tickBase, { customValues: yTickValues }),
    axisLabel: { show: false }, splitLine: { show: false }
  });
  const xi = 2 * i, yi = 2 * i;
  if (p.bands.length) {
    series.push({
      type: 'line', name: 'bands' + i, xAxisIndex: xi, yAxisIndex: yi, data: [], z: 1, silent: true,
      markArea: { silent: true, data: p.bands.map((b, k) => [{ xAxis: b[0], itemStyle: { color: bandStyle[p.kinds[k]].fill } }, { xAxis: b[1] }]) }
    });
  }
  series.push({
    type: 'line', name: seriesNames[0], xAxisIndex: xi, yAxisIndex: yi, data: p.red, z: 3,
    showSymbol: false, symbol: 'none', smooth: p.smooth, lineStyle: { color: RED, width: LW }, itemStyle: { color: RED }
  });
  series.push({
    type: 'line', name: seriesNames[1], xAxisIndex: xi, yAxisIndex: yi, data: p.green, z: 4,
    showSymbol: false, symbol: 'none', smooth: p.smooth, lineStyle: { color: GREEN, width: LW }, itemStyle: { color: GREEN }
  });
  if (p.bands.length) {
    const edges = [];
    p.bands.forEach((b, k) => {
      const ls = { color: bandStyle[p.kinds[k]].edge, width: 6, type: [6, 6], opacity: 1 };
      edges.push({ xAxis: b[0], lineStyle: ls });
      edges.push({ xAxis: b[1], lineStyle: ls });
    });
    series.push({
      type: 'line', name: 'edges' + i, xAxisIndex: xi, yAxisIndex: yi, data: [], z: 6, silent: true,
      markLine: { silent: true, symbol: ['none', 'none'], label: { show: false },
        lineStyle: { type: [6, 6], width: 6, opacity: 1 }, data: edges }
    });
  }
});

const option = {
  animation: false,
  backgroundColor: '#ffffff',
  grid, xAxis, yAxis, series,
  legend: {
    data: seriesNames, left: 1270, top: 2082, orient: 'horizontal',
    icon: 'rect', itemWidth: 100, itemHeight: 5, itemGap: 24,
    padding: [11, 18, 11, 10], borderColor: AXIS, borderWidth: 1.5, backgroundColor: '#ffffff',
    textStyle: { color: '#000', fontSize: FS, fontFamily: FONT, padding: [0, 0, 0, 6] },
    selectedMode: false, z: 10
  },
  graphic: [
    { type: 'text', x: 40, y: 1090, rotation: Math.PI / 2,
      style: { text: '{a|Temperature fluctuations }{b|T′}{a| [°C]}', align: 'center', verticalAlign: 'middle',
        rich: { a: { fontSize: FS, fontFamily: FONT, fill: TEXT, color: TEXT }, b: { fontSize: FS, fontFamily: FONT, fontStyle: 'italic', fill: TEXT, color: TEXT } } } },
    { type: 'text', x: 978, y: 2250,
      style: { text: 'Time [s]', align: 'center', verticalAlign: 'middle', fontSize: FS, fontFamily: FONT, fill: TEXT } }
  ]
};
const chart = echarts.init(document.getElementById('c'), null, { renderer: 'canvas' });
chart.setOption(option);
</script>
</body></html>
